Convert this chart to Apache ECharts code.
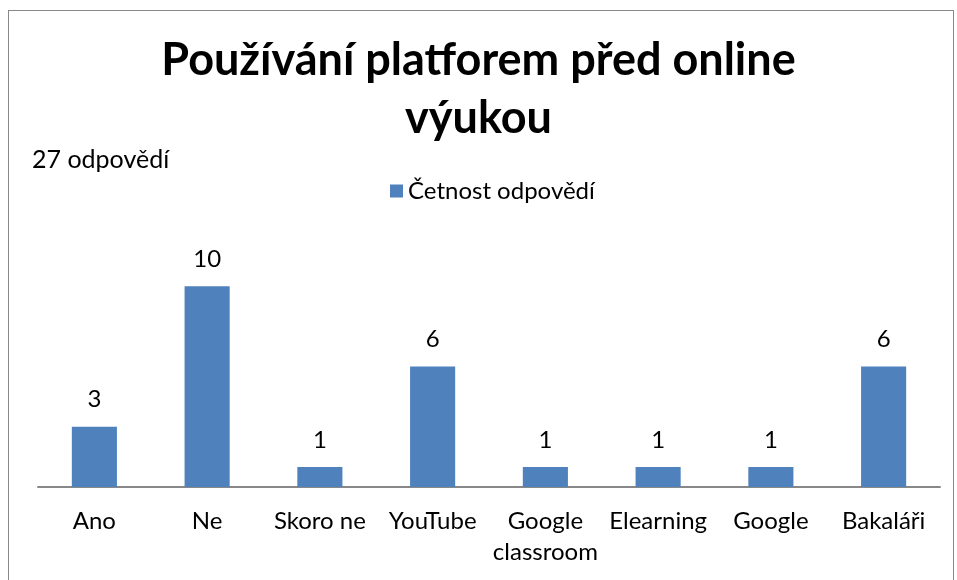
<!DOCTYPE html>
<html><head><meta charset="utf-8">
<script src="https://cdn.jsdelivr.net/npm/echarts@6/dist/echarts.min.js"></script>
<style>html,body{margin:0;padding:0;background:#fff}#c{width:957px;height:580px}
#frame{position:absolute;left:8px;top:10px;width:946px;height:600px;border:1.5px solid #888;box-sizing:border-box;pointer-events:none}</style>
</head><body><div id="c"></div><div id="frame"></div>
<script>
const categories = ['Ano', 'Ne', 'Skoro ne', 'YouTube', 'Google\nclassroom', 'Elearning', 'Google', 'Bakaláři'];
const values = [3, 10, 1, 6, 1, 1, 1, 6];
const seriesName = 'Četnost odpovědí';
const titleText = 'Používání platforem před online\nvýukou';
const subText = '27 odpovědí';
const F = 'Lato';
const chart = echarts.init(document.getElementById('c'));
chart.setOption({
  animation: false,
  title: [
    {text: titleText, left: 'center', top: 26, textStyle: {fontFamily: F, fontSize: 45, fontWeight: 'bold', color: '#000', lineHeight: 58}},
    {text: subText, left: 27, top: 142, textStyle: {fontFamily: F, fontSize: 25, fontWeight: 'normal', color: '#000'}}
  ],
  legend: {top: 174, left: 385, itemWidth: 13, itemHeight: 13, itemGap: 7, icon: 'rect',
    textStyle: {fontFamily: F, fontSize: 24, color: '#000'}, data: [seriesName]},
  grid: {left: 38, right: 17, top: 246, bottom: 93},
  xAxis: {type: 'category', data: categories, axisLine: {lineStyle: {color: '#888', width: 2}}, axisTick: {show: false},
    axisLabel: {interval: 0, margin: 19, fontFamily: F, fontSize: 24, color: '#000', lineHeight: 31}},
  yAxis: {type: 'value', min: 0, max: 12, show: false, splitLine: {show: false}},
  series: [{name: seriesName, type: 'bar', data: values, barWidth: '40%', itemStyle: {color: '#4F81BD'},
    label: {show: true, position: 'top', distance: 15, fontFamily: F, fontSize: 24, color: '#000'}}]
});
</script></body></html>
